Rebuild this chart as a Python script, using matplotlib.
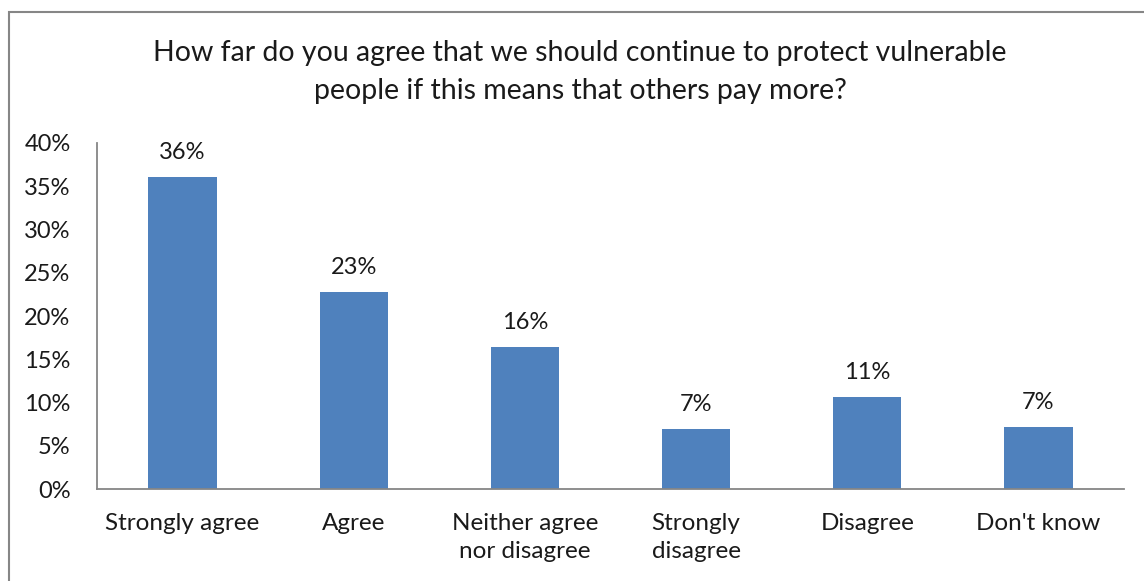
import numpy as np
import matplotlib.pyplot as plt
from matplotlib.patches import Rectangle
from matplotlib.ticker import PercentFormatter

plt.rcParams['font.family'] = ['Lato', 'DejaVu Sans']

categories = ['Strongly agree', 'Agree', 'Neither agree\nnor disagree',
              'Strongly\ndisagree', 'Disagree', "Don't know"]
values = [36.1, 22.8, 16.4, 6.9, 10.6, 7.2]
labels = ['36%', '23%', '16%', '7%', '11%', '7%']

fig = plt.figure(figsize=(11.44, 5.81), dpi=100)
ax = fig.add_axes([0.0848, 0.1583, 0.8977, 0.5956])

# borde gris alrededor del gráfico
fig.patches.append(Rectangle((9 / 1144, -0.1), 1.2, 1 - 12 / 581 + 0.1,
                             transform=fig.transFigure, fill=False,
                             edgecolor='#868686', linewidth=1.5))

x = np.arange(len(categories))
bars = ax.bar(x, values, width=0.4, color='#4f81bd')

for b, lab in zip(bars, labels):
    ax.text(b.get_x() + b.get_width() / 2, b.get_height() + 1.6, lab,
            ha='center', va='bottom', fontsize=17, color='#1a1a1a')

ax.set_xlim(-0.5, len(categories) - 0.5)
ax.set_ylim(0, 40)
ax.set_yticks(np.arange(0, 41, 5))
ax.yaxis.set_major_formatter(PercentFormatter(decimals=0))
ax.set_xticks(x)
ax.set_xticklabels(categories, fontsize=17.5, color='#1a1a1a', linespacing=1.42)
ax.tick_params(axis='y', labelsize=17, labelcolor='#1a1a1a', length=0, pad=19)
ax.tick_params(axis='x', length=0, pad=17)

for s in ['top', 'right']:
    ax.spines[s].set_visible(False)
for s in ['left', 'bottom']:
    ax.spines[s].set_color('#868686')
    ax.spines[s].set_linewidth(1.3)

fig.text(0.507, 0.876, 'How far do you agree that we should continue to protect vulnerable\npeople if this means that others pay more?',
         ha='center', va='center', fontsize=20.5, color='#1a1a1a', linespacing=1.6)

plt.savefig('out.png', dpi=100)
